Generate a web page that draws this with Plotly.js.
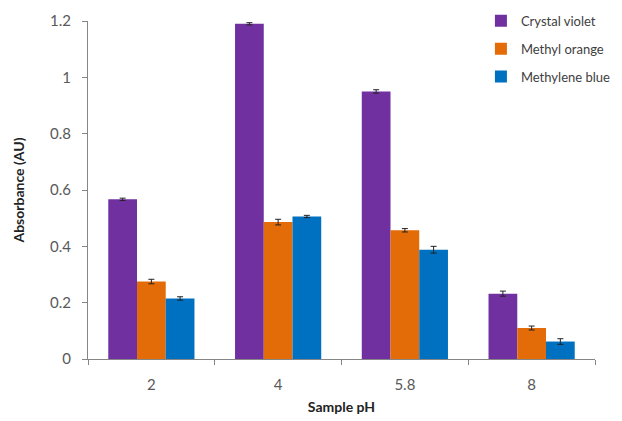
<!DOCTYPE html>
<html>
<head>
<meta charset="utf-8">
<script src="https://cdn.plot.ly/plotly-3.0.1.min.js"></script>
<style>html,body{margin:0;padding:0;background:#fff;}#chart{width:622px;height:421px;}</style>
</head>
<body>
<div id="chart"></div>
<script>
const categories = ["2", "4", "5.8", "8"];
const seriesNames = ["Crystal violet", "Methyl orange", "Methylene blue"];
const crystalViolet = [0.567, 1.19, 0.95, 0.232];
const methylOrange = [0.275, 0.486, 0.457, 0.11];
const methyleneBlue = [0.215, 0.506, 0.388, 0.062];
const crystalVioletErr = [0.004, 0.004, 0.006, 0.009];
const methylOrangeErr = [0.008, 0.01, 0.006, 0.007];
const methyleneBlueErr = [0.006, 0.004, 0.012, 0.01];
const colors = ["#7030A0", "#E36C09", "#0070C0"];

const values = [crystalViolet, methylOrange, methyleneBlue];
const errs = [crystalVioletErr, methylOrangeErr, methyleneBlueErr];

const data = seriesNames.map((name, i) => ({
  type: "bar",
  name: name,
  x: categories,
  y: values[i],
  legendgroup: "g" + i,
  marker: {color: colors[i], line: {width: 0}},
  error_y: {type: "data", array: errs[i], visible: true, color: "#222", thickness: 1, width: 3}
}));

const layout = {
  width: 622, height: 421,
  margin: {l: 88, r: 6, t: 18, b: 62},
  paper_bgcolor: "#fff", plot_bgcolor: "#fff",
  font: {family: "Lato, 'Open Sans', sans-serif", color: "#595959", size: 13},
  barmode: "group",
  bargap: 0.32,
  bargroupgap: 0,
  showlegend: true,
  legend: {
    x: 0.775, y: 1.045, xanchor: "left", yanchor: "top",
    traceorder: "grouped", tracegroupgap: 8,
    font: {size: 13, color: "#404040"},
    bgcolor: "rgba(255,255,255,0)"
  },
  xaxis: {
    type: "category",
    showline: true, linecolor: "#868686", linewidth: 1,
    ticks: "outside", tickson: "boundaries", ticklen: 5, tickcolor: "#868686",
    ticklabelstandoff: 12,
    showgrid: false, zeroline: false,
    tickfont: {size: 15, color: "#595959"},
    title: {text: "<b>Sample pH</b>", font: {size: 14, color: "#222"}, standoff: 10}
  },
  yaxis: {
    range: [0, 1.2],
    tickvals: [0, 0.2, 0.4, 0.6, 0.8, 1, 1.2],
    ticktext: ["0", "0.2", "0.4", "0.6", "0.8", "1", "1.2"],
    showline: true, linecolor: "#868686", linewidth: 1,
    ticks: "outside", ticklen: 5, tickcolor: "#868686",
    ticklabelstandoff: 8,
    showgrid: false, zeroline: false,
    tickfont: {size: 15, color: "#595959"},
    title: {text: "<b>Absorbance (AU)</b>", font: {size: 14, color: "#222"}, standoff: 22}
  }
};

Plotly.newPlot("chart", data, layout, {displayModeBar: false, staticPlot: true});
</script>
</body>
</html>
